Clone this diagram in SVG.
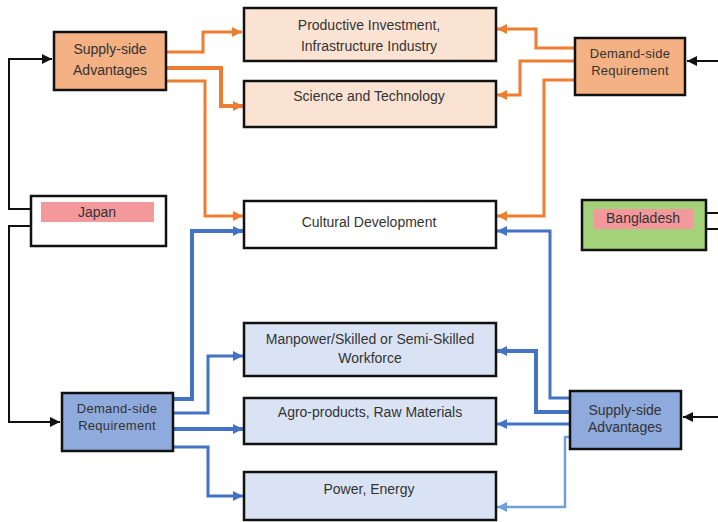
<svg xmlns="http://www.w3.org/2000/svg" width="718" height="522" viewBox="0 0 718 522">
<style>
.box{stroke:#111;stroke-width:2.5}
.t{font-family:"Liberation Sans",Arial,sans-serif;font-size:14px;fill:#333;text-anchor:middle}
.s{font-size:13px;letter-spacing:0.3px}
.or{fill:none;stroke:#ED7D31;stroke-width:3}
.bl{fill:none;stroke:#4472C4;stroke-width:3}
.lb{fill:none;stroke:#6FA3D8;stroke-width:2.5}
.bk{fill:none;stroke:#111;stroke-width:2}
</style>
<defs>
<marker id="ao" markerUnits="userSpaceOnUse" markerWidth="12" markerHeight="12" refX="10" refY="6" orient="auto"><path d="M0,1 L10,6 L0,11 Z" fill="#ED7D31"/></marker>
<marker id="ab" markerUnits="userSpaceOnUse" markerWidth="12" markerHeight="12" refX="10" refY="6" orient="auto"><path d="M0,1 L10,6 L0,11 Z" fill="#4472C4"/></marker>
<marker id="alb" markerUnits="userSpaceOnUse" markerWidth="12" markerHeight="12" refX="10" refY="6" orient="auto"><path d="M0,1 L10,6 L0,11 Z" fill="#6FA3D8"/></marker>
<marker id="ak" markerUnits="userSpaceOnUse" markerWidth="12" markerHeight="12" refX="10" refY="6" orient="auto"><path d="M0,1 L10,6 L0,11 Z" fill="#111"/></marker>
</defs>
<rect width="718" height="522" fill="#fff"/>
<g id="connectors">
<path class="bk" d="M31,209 H9 V59 H52" marker-end="url(#ak)"/>
<path class="bk" d="M31,226 H9 V422 H60" marker-end="url(#ak)"/>
<path class="bk" d="M718,61 H687" marker-end="url(#ak)"/>
<path class="bk" d="M718,417 H683" marker-end="url(#ak)"/>
<path class="bk" d="M706,213 H718 M706,229 H718"/>
<path class="or" d="M166,52 H203 V32 H242" marker-end="url(#ao)"/>
<path class="or" style="stroke-width:4" d="M166,68 H221 V106 H243" marker-end="url(#ao)"/>
<path class="or" d="M166,81 H205 V216 H243" marker-end="url(#ao)"/>
<path class="or" d="M575,48 H536 V29 H497" marker-end="url(#ao)"/>
<path class="or" d="M575,61 H520 V95 H497" marker-end="url(#ao)"/>
<path class="or" d="M575,80 H544 V216 H497" marker-end="url(#ao)"/>
<path class="bl" style="stroke-width:4" d="M173,399 H192 V231 H243" marker-end="url(#ab)"/>
<path class="bl" d="M173,413 H208 V356 H243" marker-end="url(#ab)"/>
<path class="bl" style="stroke-width:4" d="M173,429 H243" marker-end="url(#ab)"/>
<path class="bl" d="M173,447 H208 V496 H243" marker-end="url(#ab)"/>
<path class="bl" d="M570,398 H550 V231 H497" marker-end="url(#ab)"/>
<path class="bl" style="stroke-width:4" d="M570,412 H536 V351 H497" marker-end="url(#ab)"/>
<path class="bl" d="M570,424 H497" marker-end="url(#ab)"/>
<path class="lb" d="M570,437 H565 V507 H497" marker-end="url(#alb)"/>
</g>
<g id="supply-jp">
<rect class="box" x="54" y="32" width="112" height="58" fill="#F4B183"/>
<text class="t" x="110" y="54">Supply-side</text>
<text class="t" x="110" y="75">Advantages</text>
</g>
<g id="productive">
<rect class="box" x="244" y="8" width="252" height="53" fill="#FBE3D3"/>
<text class="t" x="369" y="30">Productive Investment,</text>
<text class="t" x="369" y="51">Infrastructure Industry</text>
</g>
<g id="science">
<rect class="box" x="244" y="81" width="252" height="46" fill="#FBE3D3"/>
<text class="t" x="369" y="101">Science and Technology</text>
</g>
<g id="cultural">
<rect class="box" x="244" y="201" width="252" height="47" fill="#fff"/>
<text class="t" x="369" y="227">Cultural Development</text>
</g>
<g id="japan">
<rect class="box" x="31" y="196" width="135" height="50" fill="#fff"/>
<rect x="41" y="202" width="113" height="20" fill="#F4999B"/>
<text class="t" x="97" y="217">Japan</text>
</g>
<g id="demand-bd">
<rect class="box" x="575" y="38" width="110" height="57" fill="#F4B183"/>
<text class="t s" x="630" y="58">Demand-side</text>
<text class="t s" x="630" y="75">Requirement</text>
</g>
<g id="bangladesh">
<rect class="box" x="582" y="200" width="124" height="50" fill="#A4D27B"/>
<rect x="594" y="209" width="99" height="20" fill="#F4999B"/>
<text class="t" x="643" y="223">Bangladesh</text>
</g>
<g id="manpower">
<rect class="box" x="244" y="323" width="252" height="53" fill="#DAE3F3"/>
<text class="t" x="370" y="344">Manpower/Skilled or Semi-Skilled</text>
<text class="t" x="370" y="363">Workforce</text>
</g>
<g id="agro">
<rect class="box" x="244" y="398" width="252" height="46" fill="#DAE3F3"/>
<text class="t" x="370" y="417">Agro-products, Raw Materials</text>
</g>
<g id="power">
<rect class="box" x="244" y="472" width="252" height="48" fill="#DAE3F3"/>
<text class="t" x="369" y="494">Power, Energy</text>
</g>
<g id="demand-jp">
<rect class="box" x="62" y="393" width="111" height="58" fill="#8FAADC"/>
<text class="t s" x="117" y="413">Demand-side</text>
<text class="t s" x="117" y="430">Requirement</text>
</g>
<g id="supply-bd">
<rect class="box" x="570" y="391" width="111" height="58" fill="#8FAADC"/>
<text class="t" x="625" y="415">Supply-side</text>
<text class="t" x="625" y="432">Advantages</text>
</g>
</svg>
